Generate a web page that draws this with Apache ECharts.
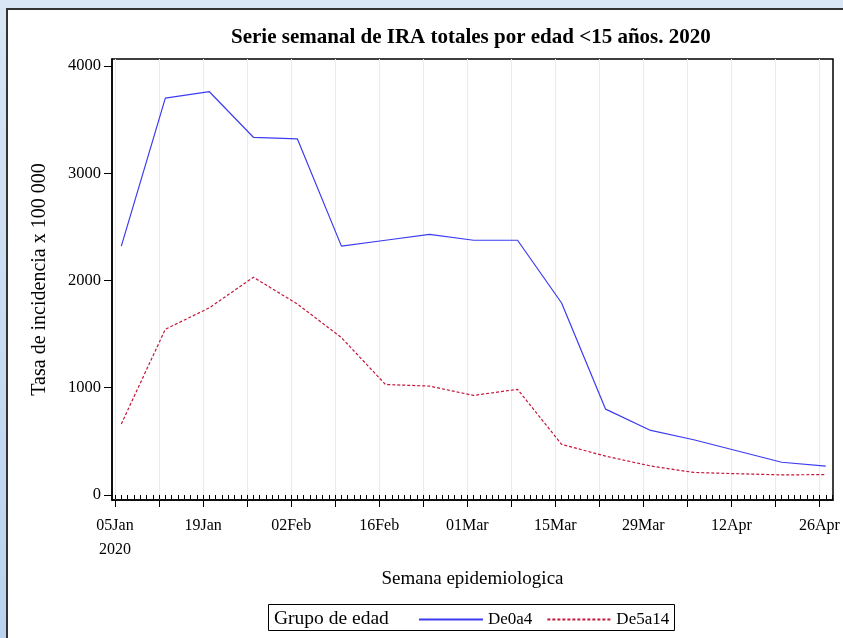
<!DOCTYPE html>
<html>
<head>
<meta charset="utf-8">
<script src="https://cdn.jsdelivr.net/npm/echarts@6/dist/echarts.min.js"></script>
<style>
html, body { margin: 0; padding: 0; height: 100%; background: linear-gradient(to bottom, #d8e6f5, #bad2ee); }
#panel { position: absolute; left: 6px; top: 8px; width: 837px; height: 630px; background: #fff; border-top: 2px solid #333; border-left: 2px solid #333; }
#chart { position: absolute; left: 0; top: 0; width: 843px; height: 638px; }
</style>
</head>
<body>
<div id="panel"></div>
<div id="chart"></div>
<script>
// weekly dates of the series (Mondays)
const weeks = ['2020-01-06','2020-01-13','2020-01-20','2020-01-27','2020-02-03','2020-02-10','2020-02-17','2020-02-24',
  '2020-03-02','2020-03-09','2020-03-16','2020-03-23','2020-03-30','2020-04-06','2020-04-13','2020-04-20','2020-04-27'];
const de0a4  = [2320, 3700, 3760, 3335, 3320, 2320, 2375, 2430, 2375, 2375, 1790, 800, 605, 515, 410, 305, 268];
const de5a14 = [662, 1545, 1745, 2030, 1780, 1467, 1030, 1015, 928, 985, 472, 362, 272, 210, 198, 187, 190];
const tickLabels = ['05Jan','19Jan','02Feb','16Feb','01Mar','15Mar','29Mar','12Apr','26Apr'];
const yTicks = [0, 1000, 2000, 3000, 4000];

const start = Date.UTC(2020, 0, 5);
const dayOf = s => (Date.parse(s) - start) / 86400000;
const labelDays = tickLabels.map((l, i) => i * 14);
const weekDays = [], allDays = [];
for (let d = 0; d <= 112; d += 7) weekDays.push(d);
for (let d = 0; d <= 114; d++) allDays.push(d);

const chart = echarts.init(document.getElementById('chart'));
const serif = 'Liberation Serif';

chart.setOption({
  animation: false,
  textStyle: { fontFamily: serif, color: '#000' },
  graphic: [
    { type: 'text', left: 474 - 243, top: 27, style: { text: 'Serie semanal de IRA totales por edad <15 años. 2020', font: 'bold 21px "Liberation Serif"', fill: '#000' } },
    { type: 'rect', shape: { x: 268.5, y: 604.5, width: 406, height: 26 }, style: { fill: 'none', stroke: '#000', lineWidth: 1 } },
    { type: 'text', x: 274, y: 609, style: { text: 'Grupo de edad', font: '19.5px "Liberation Serif"', fill: '#000' } }
  ],
  grid: { left: 112, top: 59, right: 10, bottom: 138, show: true, borderColor: '#000', borderWidth: 1.5 },
  legend: {
    left: 413, top: 606, itemWidth: 64, itemHeight: 4, itemGap: 14,
    itemStyle: { color: 'rgba(0,0,0,0)', borderWidth: 0 },
    textStyle: { fontFamily: serif, fontSize: 17, color: '#000' },
    data: ['De0a4', 'De5a14']
  },
  xAxis: [
    {
      type: 'value', min: -0.48, max: 114.15,
      name: 'Semana epidemiologica', nameLocation: 'middle', nameGap: 70,
      nameTextStyle: { fontFamily: serif, fontSize: 19, color: '#000' },
      axisLine: { onZero: false, lineStyle: { color: '#000', width: 1.5 } },
      axisTick: { customValues: weekDays, length: 7, lineStyle: { color: '#000' } },
      axisLabel: {
        customValues: labelDays, fontSize: 16, color: '#000', margin: 14, lineHeight: 24,
        formatter: v => { const i = labelDays.indexOf(v); return i === 0 ? tickLabels[0] + '\n2020' : (i >= 0 ? tickLabels[i] : ''); }
      },
      splitLine: { show: true, lineStyle: { color: '#ebebeb', width: 1 } }
    },
    {
      type: 'value', min: -0.48, max: 114.15, position: 'bottom',
      axisLine: { show: false },
      axisTick: { customValues: allDays, length: 4, lineStyle: { color: '#000' } },
      axisLabel: { show: false },
      splitLine: { show: false }
    }
  ],
  yAxis: {
    type: 'value', min: -47, max: 4065,
    name: 'Tasa de incidencia x 100 000', nameLocation: 'middle', nameGap: 62,
    nameTextStyle: { fontFamily: serif, fontSize: 20, color: '#000' },
    axisLine: { show: true, onZero: false, lineStyle: { color: '#000', width: 1.5 } },
    axisTick: { show: true, customValues: yTicks, length: 8, lineStyle: { color: '#000' } },
    axisLabel: { customValues: yTicks, fontSize: 16.5, color: '#000', margin: 11, formatter: v => String(v) },
    splitLine: { show: false }
  },
  series: [
    {
      name: 'De0a4', type: 'line', symbol: 'none',
      lineStyle: { color: '#3c3cf0', width: 1.2 }, itemStyle: { color: '#3c3cf0' },
      data: weeks.map((w, i) => [dayOf(w), de0a4[i]])
    },
    {
      name: 'De5a14', type: 'line', symbol: 'none',
      lineStyle: { color: '#c4163a', width: 1.2, type: [3, 2] }, itemStyle: { color: '#c4163a' },
      data: weeks.map((w, i) => [dayOf(w), de5a14[i]])
    }
  ]
});
</script>
</body>
</html>
